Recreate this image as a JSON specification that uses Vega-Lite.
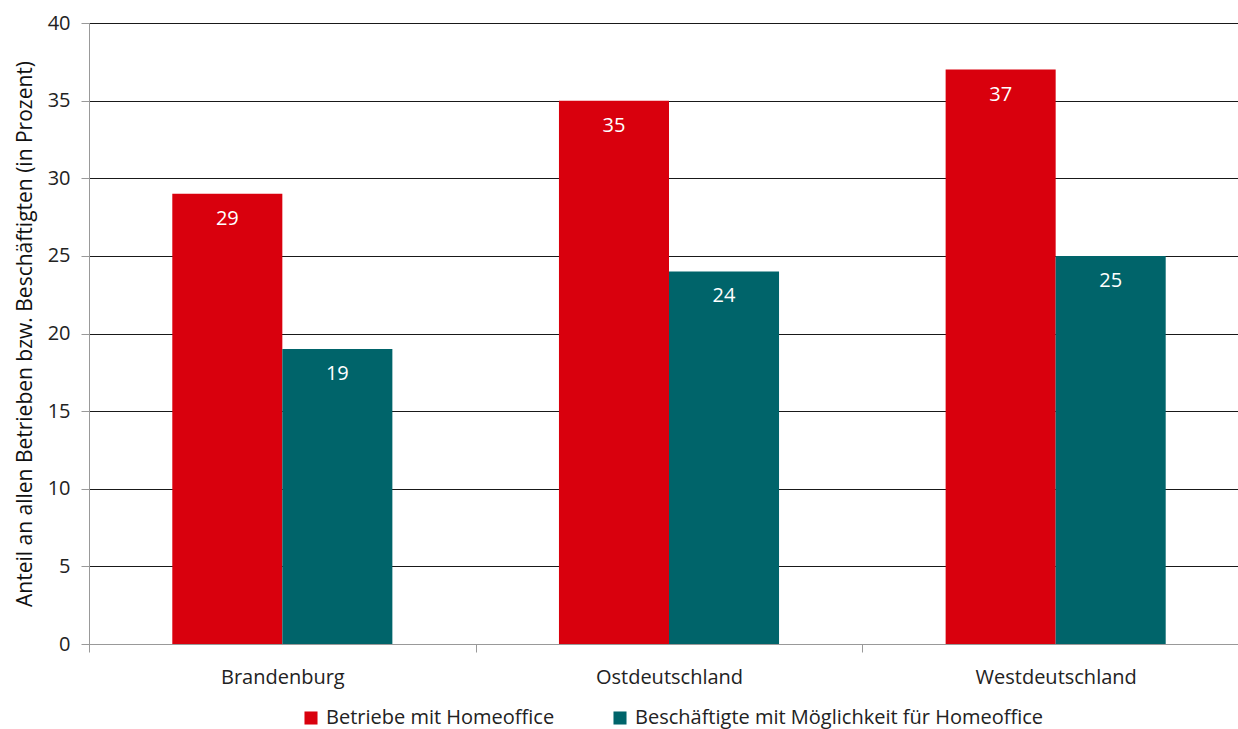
{
  "$schema": "https://vega.github.io/schema/vega-lite/v6.json",
  "width": 1160,
  "height": 621,
  "autosize": {"type": "none"},
  "padding": {"left": 89, "top": 23, "right": 0, "bottom": 85},
  "background": "white",
  "config": {
    "view": {"stroke": null},
    "font": "Open Sans"
  },
  "data": {
    "values": [
      {"region": "Brandenburg", "serie": "Betriebe mit Homeoffice", "wert": 29},
      {"region": "Brandenburg", "serie": "Beschäftigte mit Möglichkeit für Homeoffice", "wert": 19},
      {"region": "Ostdeutschland", "serie": "Betriebe mit Homeoffice", "wert": 35},
      {"region": "Ostdeutschland", "serie": "Beschäftigte mit Möglichkeit für Homeoffice", "wert": 24},
      {"region": "Westdeutschland", "serie": "Betriebe mit Homeoffice", "wert": 37},
      {"region": "Westdeutschland", "serie": "Beschäftigte mit Möglichkeit für Homeoffice", "wert": 25}
    ]
  },
  "encoding": {
    "x": {
      "field": "region",
      "type": "nominal",
      "sort": ["Brandenburg", "Ostdeutschland", "Westdeutschland"],
      "scale": {"paddingInner": 0, "paddingOuter": 0},
      "axis": {
        "title": null,
        "labelAngle": 0,
        "labelFontSize": 20,
        "labelColor": "#222222",
        "labelPadding": 15,
        "tickBand": "extent",
        "tickSize": 8,
        "tickColor": "#999999",
        "domainColor": "#999999",
        "grid": false
      }
    },
    "xOffset": {
      "field": "serie",
      "type": "nominal",
      "sort": ["Betriebe mit Homeoffice", "Beschäftigte mit Möglichkeit für Homeoffice"],
      "scale": {"paddingInner": 0, "paddingOuter": 0.757}
    },
    "y": {
      "field": "wert",
      "type": "quantitative",
      "scale": {"domain": [0, 40]},
      "axis": {
        "title": "Anteil an allen Betrieben bzw. Beschäftigten (in Prozent)",
        "titleFontSize": 21,
        "titleFontWeight": "normal",
        "titleColor": "#111111",
        "titlePadding": 12,
        "values": [0, 5, 10, 15, 20, 25, 30, 35, 40],
        "labelFontSize": 20,
        "labelColor": "#222222",
        "labelPadding": 11,
        "tickSize": 8,
        "tickColor": "#999999",
        "domainColor": "#999999",
        "grid": true,
        "gridColor": "#000000",
        "gridWidth": 1.2,
        "gridOpacity": 0.9
      }
    }
  },
  "layer": [
    {
      "mark": {"type": "bar"},
      "encoding": {
        "color": {
          "field": "serie",
          "type": "nominal",
          "sort": ["Betriebe mit Homeoffice", "Beschäftigte mit Möglichkeit für Homeoffice"],
          "scale": {
            "domain": ["Betriebe mit Homeoffice", "Beschäftigte mit Möglichkeit für Homeoffice"],
            "range": ["#D9000D", "#00646A"]
          },
          "legend": {
            "title": null,
            "orient": "none",
            "direction": "horizontal",
            "legendX": 212,
            "legendY": 685,
            "symbolType": "square",
            "symbolSize": 170,
            "symbolStrokeWidth": 0,
            "labelFontSize": 20,
            "labelLimit": 600,
            "labelColor": "#222222",
            "labelOffset": 5,
            "columnPadding": 55
          }
        }
      }
    },
    {
      "mark": {"type": "text", "color": "white", "fontSize": 20, "baseline": "top", "dy": 15},
      "encoding": {
        "text": {"field": "wert", "type": "quantitative"}
      }
    }
  ]
}
